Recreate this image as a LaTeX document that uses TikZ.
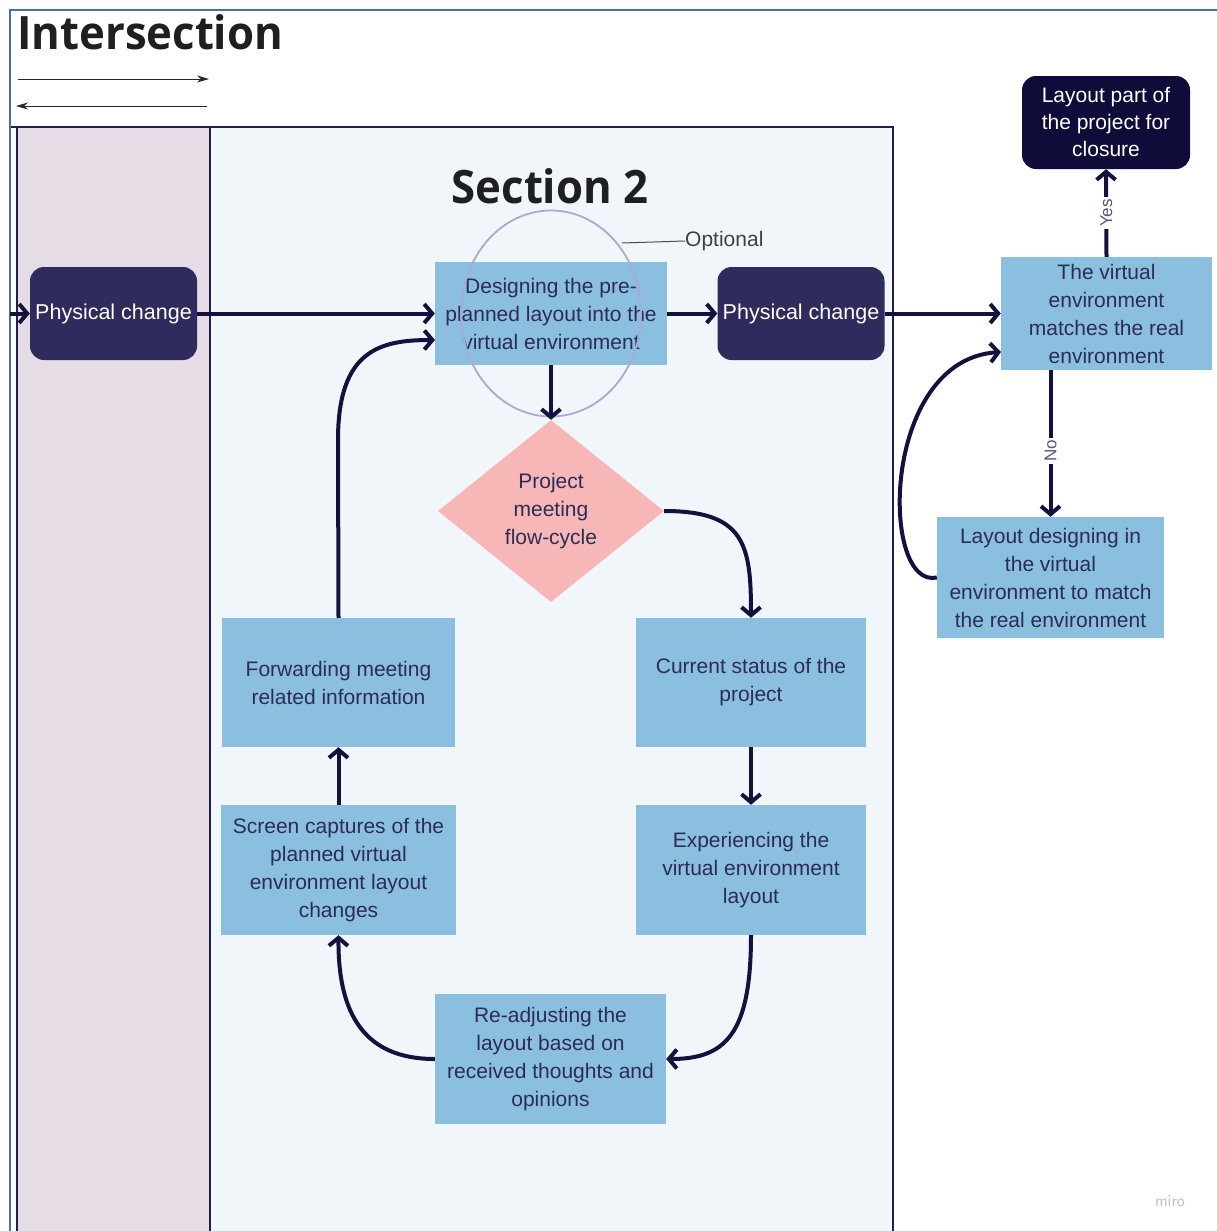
\documentclass[tikz,border=0pt]{standalone}
\usepackage{fontspec}
\setmainfont{Liberation Sans}
\newfontfamily\titlefont{Open Sans}
\usetikzlibrary{arrows.meta,shapes.geometric,calc}
\definecolor{frameblue}{HTML}{4A6FA5}
\definecolor{lanefill}{HTML}{E6DCE6}
\definecolor{secfill}{HTML}{F1F6FB}
\definecolor{navyline}{HTML}{22204A}
\definecolor{boxblue}{HTML}{8BBFDF}
\definecolor{boxtext}{HTML}{2C2C54}
\definecolor{pcfill}{HTML}{2F2B5C}
\definecolor{closefill}{HTML}{0F0C3A}
\definecolor{diafill}{HTML}{F8B7B7}
\definecolor{conn}{HTML}{13113E}
\definecolor{optring}{HTML}{A8AAD8}
\begin{document}
\begin{tikzpicture}[x=1pt,y=-1pt,
  bluebox/.style={rectangle,fill=boxblue,text=boxtext,inner sep=0pt,align=center,
    font=\fontsize{21}{28}\selectfont},
  pcbox/.style={rectangle,rounded corners=14pt,fill=pcfill,text=white,inner sep=0pt,
    minimum width=167pt,minimum height=93pt,font=\fontsize{21.5}{28}\selectfont},
  link/.style={draw=conn,line width=4pt,-{Straight Barb[length=8pt,width=19pt]}},
  lbl/.style={fill=white,text=boxtext!80,font=\fontsize{17}{20}\selectfont,rotate=90,inner sep=2pt},
  titletxt/.style={font=\titlefont\bfseries\fontsize{46}{50}\selectfont,text=black!88,inner sep=0pt}
]
\useasboundingbox (0,0) rectangle (1217,1231);
\fill[white] (0,0) rectangle (1217,1231);
% lanes
\draw[navyline,line width=1.6pt,fill=lanefill] (17,127) rectangle (210,1240);
\draw[navyline,line width=1.6pt,fill=secfill] (210,127) rectangle (893,1240);
\draw[navyline,line width=1.6pt] (10,127) -- (893,127);
% outer frame
\draw[frameblue,line width=2.2pt] (1230,10) -- (10,10) -- (10,1240);
% titles
\node[titletxt,anchor=base west] (title) at (17,50) {\scalebox{0.95}[1]{Intersection}};
\node[titletxt,anchor=base] (sec) at (550,203) {\scalebox{0.95}[1]{Section 2}};
% legend arrows
\coordinate (la1) at (18,79);
\coordinate (la2) at (209,79);
\coordinate (lb1) at (207,106);
\coordinate (lb2) at (16,106);
\draw[black!85,line width=1pt,-{Stealth[length=12pt,width=7pt]}] (la1) -- (la2);
\draw[black!85,line width=1pt,-{Stealth[length=12pt,width=7pt]}] (lb1) -- (lb2);
% nodes
\node[pcbox] (pc1) at (113.5,313.5) {Physical change};
\node[pcbox] (pc2) at (801,313.5) {Physical change};
\node[bluebox,minimum width=232pt,minimum height=103pt] (b1) at (551,313.5)
  {Designing the pre-\\planned layout into the\\virtual environment};
\node[diamond,fill=diafill,text=boxtext,inner sep=0pt,minimum width=226pt,minimum height=182pt,
  align=center,font=\fontsize{21}{28}\selectfont] (dia) at (551,511) {Project\\meeting\\flow-cycle};
\node[bluebox,minimum width=230pt,minimum height=129pt] (b3) at (751,682.5)
  {Current status of the\\project};
\node[bluebox,minimum width=230pt,minimum height=130pt] (b4) at (751,870)
  {Experiencing the\\virtual environment\\layout};
\node[bluebox,minimum width=231pt,minimum height=130pt] (b5) at (550.5,1059)
  {Re-adjusting the\\layout based on\\received thoughts and\\opinions};
\node[bluebox,minimum width=235pt,minimum height=130pt] (b6) at (338.5,870)
  {Screen captures of the\\planned virtual\\environment layout\\changes};
\node[bluebox,minimum width=233pt,minimum height=129pt] (b7) at (338.5,682.5)
  {Forwarding meeting\\related information};
\node[bluebox,minimum width=211pt,minimum height=113pt] (b8) at (1106.5,313.5)
  {The virtual\\environment\\matches the real\\environment};
\node[rectangle,rounded corners=14pt,fill=closefill,text=white,inner sep=0pt,align=center,
  minimum width=168pt,minimum height=93pt,font=\fontsize{21}{27}\selectfont] (b9) at (1106,122.5)
  {Layout part of\\the project for\\closure};
\node[bluebox,minimum width=227pt,minimum height=121pt] (b10) at (1050.5,577.5)
  {Layout designing in\\the virtual\\environment to match\\the real environment};
% optional ring
\draw[optring,line width=1.8pt] (b1.center) ellipse [x radius=90pt,y radius=103pt];
\coordinate (optA) at (622,243);
\node[anchor=west,inner sep=0pt,text=black!75,font=\fontsize{21}{24}\selectfont] (opt) at (685,241) {Optional};
\draw[black!70,line width=1pt] (optA) -- (opt.west);
% connectors
\coordinate (startL) at (10,313.5);
\coordinate (b1in) at (435,340);
\coordinate (b8in) at (1001,352);
\draw[link] (startL) -- (pc1.west);
\draw[link] (pc1.east) -- (b1.west);
\draw[link] (b1.east) -- (pc2.west);
\draw[link] (pc2.east) -- (b8.west);
\draw[link] (b1.south) -- (dia.north);
\draw[link] (dia.east) .. controls (745,511) and (751,545) .. (b3.north);
\draw[link] (b3.south) -- (b4.north);
\draw[link] (b4.south) .. controls (751,1035) and (725,1059) .. (b5.east);
\draw[link] (b5.west) .. controls (365,1059) and (338,1015) .. (b6.south);
\draw[link] (b6.north) -- (b7.south);
\draw[link] (b7.north) -- (338,440) .. controls (338,350) and (380,340) .. (b1in);
\draw[link] (b10.west) .. controls (880,590) and (880,360) .. (b8in);
\draw[link] (b8.north) -- node[lbl,pos=0.5] {Yes} (b9.south);
\draw[link] (b8.south -| b10.north) -- node[lbl,pos=0.55] {No} (b10.north);
% watermark
\node[text=black!25,font=\sffamily\fontsize{17}{20}\selectfont,inner sep=0pt] (miro) at (1170,1201) {miro};
\end{tikzpicture}
\end{document}
